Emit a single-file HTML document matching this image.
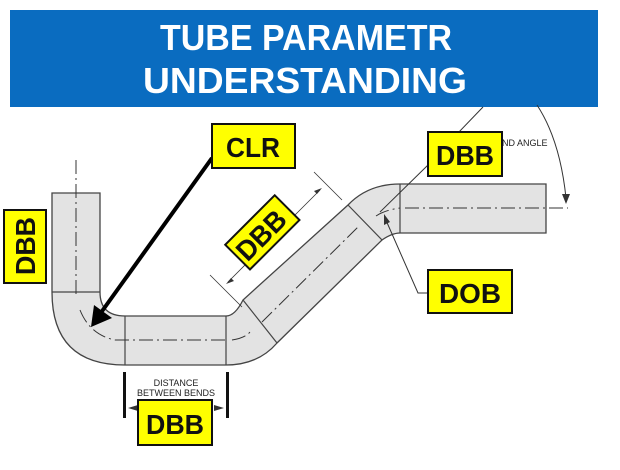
<!DOCTYPE html>
<html><head><meta charset="utf-8"><style>
body{margin:0;width:620px;height:465px;background:#fff;overflow:hidden;font-family:"Liberation Sans",sans-serif}
</style></head><body>
<svg width="620" height="465" viewBox="0 0 620 465" xmlns="http://www.w3.org/2000/svg">
<rect x="10" y="10" width="588" height="97" fill="#0a6cc0"/>
<text x="306" y="50" text-anchor="middle" font-size="36" font-weight="bold" fill="#fff" textLength="292" lengthAdjust="spacingAndGlyphs">TUBE PARAMETR</text>
<text x="305" y="93" text-anchor="middle" font-size="36" font-weight="bold" fill="#fff" textLength="324" lengthAdjust="spacingAndGlyphs">UNDERSTANDING</text>

<path d="M52,193 L52,292 Q52,365 125,365 L226,365 Q258,365 277,343 L382,240 Q392,233 400,233 L546,233 L546,184 L400,184 Q368,184 348,205 L243,300 Q235,316 226,316 L125,316 Q100,316 100,292 L100,193 Z" fill="#e3e3e3" stroke="#444" stroke-width="1.3"/>
<g stroke="#444" stroke-width="1.2">
<line x1="52" y1="292" x2="100" y2="292"/>
<line x1="125" y1="316" x2="125" y2="365"/>
<line x1="226" y1="316" x2="226" y2="365"/>
<line x1="243" y1="300" x2="277" y2="343"/>
<line x1="348" y1="205" x2="382" y2="240"/>
<line x1="400" y1="184" x2="400" y2="233"/>
</g>
<g stroke="#333" stroke-width="1" stroke-dasharray="14,4,2,4" fill="none">
<line x1="76" y1="160" x2="76" y2="295"/>
<path d="M80,310 Q90,335 115,340"/>
<line x1="115" y1="340" x2="225" y2="340"/>
<path d="M232,340 Q245,338 250,332"/>
<line x1="262" y1="322" x2="360" y2="225"/>
<path d="M376,216 Q385,210 400,208"/>
<line x1="405" y1="208" x2="568" y2="208"/>
</g>
<g stroke="#333" stroke-width="0.8" fill="none">
<line x1="210" y1="275" x2="242" y2="307"/>
<line x1="314" y1="172" x2="342" y2="200"/>
<line x1="228" y1="282" x2="320" y2="190"/>
</g>
<path d="M226,284 L234,281 L231,278 Z M322,188 L314,191 L317,194 Z" fill="#333"/>
<rect x="123" y="372" width="3" height="46" fill="#111"/>
<rect x="226" y="372" width="3" height="46" fill="#111"/>
<text x="176" y="386" text-anchor="middle" font-size="9" fill="#222">DISTANCE</text>
<text x="176" y="396" text-anchor="middle" font-size="9" fill="#222">BETWEEN BENDS</text>
<path d="M128,408 L138,405 L138,411 Z M224,408 L214,405 L214,411 Z" fill="#333"/>
<g stroke="#333" stroke-width="1" fill="none">
<line x1="483" y1="107" x2="458" y2="133"/>
<line x1="428" y1="165" x2="380" y2="212"/>
<path d="M537,105 Q560,140 566,198"/>
<path d="M428,293 L418,293 L385,218"/>
</g>
<path d="M566,204 L562,194 L570,194 Z M384,214 L384,225 L390,222 Z" fill="#333"/>
<text x="502" y="146" font-size="9" fill="#222">ND ANGLE</text>
<line x1="212" y1="158" x2="100" y2="314" stroke="#000" stroke-width="4"/>
<path d="M91,327 L94,305 L112,318 Z" fill="#000"/>
<g stroke="#111" stroke-width="2" fill="#ffff00">
<rect x="212" y="124" width="83" height="44"/>
<rect x="4" y="210" width="42" height="73"/>
<rect x="428" y="132" width="74" height="44"/>
<rect x="428" y="270" width="84" height="43"/>
<rect x="138" y="400" width="74" height="45"/>
<rect x="227" y="215" width="70" height="35" transform="rotate(-45 262 232)"/>
</g>
<g font-size="28" font-weight="bold" fill="#111" text-anchor="middle">
<text x="253" y="157" textLength="54" lengthAdjust="spacingAndGlyphs">CLR</text>
<text x="465" y="165" textLength="58" lengthAdjust="spacingAndGlyphs">DBB</text>
<text x="470" y="303" textLength="62" lengthAdjust="spacingAndGlyphs">DOB</text>
<text x="175" y="434" textLength="58" lengthAdjust="spacingAndGlyphs">DBB</text>
<text x="0" y="0" transform="translate(35 246) rotate(-90)" textLength="58" lengthAdjust="spacingAndGlyphs">DBB</text>
<text x="0" y="0" transform="translate(268 242) rotate(-45)" textLength="58" lengthAdjust="spacingAndGlyphs">DBB</text>
</g>
</svg>
</body></html>
